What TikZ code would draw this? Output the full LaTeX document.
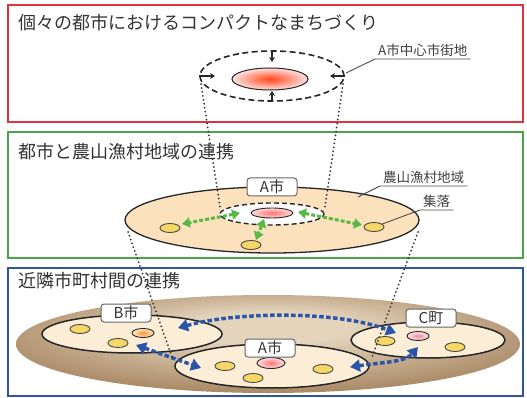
\documentclass[tikz,border=0pt]{standalone}
\usepackage{fontspec}
\setmainfont{Noto Sans CJK JP}
\usetikzlibrary{shapes.geometric,arrows.meta}
\definecolor{redB}{HTML}{E0323C}
\definecolor{greenB}{HTML}{4AA54A}
\definecolor{blueB}{HTML}{2F54A0}
\definecolor{ttlc}{HTML}{333333}
\definecolor{beige}{HTML}{FBE2BD}
\definecolor{cream}{HTML}{FCEDD6}
\definecolor{vilY}{HTML}{F5D766}
\definecolor{gArr}{HTML}{5AB946}
\definecolor{bArr}{HTML}{2A55A8}
\definecolor{brL}{HTML}{E4D4BC}
\definecolor{brD}{HTML}{9C7852}
\definecolor{pinkC}{HTML}{F08CA0}
\pgfdeclareradialshading{brownish}{\pgfpoint{0bp}{10bp}}{color(0bp)=(brL); color(8bp)=(brL); color(34bp)=(brD); color(50bp)=(brD)}
\begin{document}
\begin{tikzpicture}[x=1pt,y=-1pt,
  panel/.style={line width=2pt},
  ttl/.style={anchor=west, font=\fontsize{18}{20}\selectfont, text=ttlc, inner sep=0pt},
  oval/.style={ellipse, inner sep=0pt, draw=black!85, line width=1.3pt},
  vil/.style={oval, fill=vilY, minimum width=20pt, minimum height=9pt, line width=0.9pt, draw=black!70},
  tag/.style={rounded corners=3pt, draw=gray!80!black, fill=white, line width=1pt, font=\fontsize{15}{15}\selectfont, text=ttlc, minimum width=50pt, minimum height=18pt, inner sep=0pt},
  dotl/.style={line width=2pt, dash pattern=on 0pt off 4pt, line cap=round, draw=black!80},
  garrow/.style={draw=gArr, line width=3pt, dash pattern=on 4pt off 2pt, arrows={Triangle[length=8pt,width=10pt,fill=gArr]-Triangle[length=8pt,width=10pt,fill=gArr]}},
  barrow/.style={draw=bArr, line width=3.5pt, dash pattern=on 4.5pt off 2.5pt, arrows={Triangle[length=10pt,width=12pt,fill=bArr]-Triangle[length=10pt,width=12pt,fill=bArr]}},
  lbl/.style={font=\fontsize{13.5}{14}\selectfont, text=black!75, anchor=south west, inner xsep=3pt, inner ysep=2pt},
  lead/.style={line width=0.9pt, draw=black!70},
  inarrow/.style={line width=1.8pt, draw=black!85, -{Stealth[length=5pt,width=6pt]}}
]
\useasboundingbox (0,0) rectangle (527,398);

% panels
\draw[panel, draw=redB] (8,5) rectangle (523,122);
\draw[panel, draw=greenB] (8,132) rectangle (523,258);
\draw[panel, draw=blueB] (8,268) rectangle (523,396);

\node[ttl] (t1) at (18,23) {個々の都市におけるコンパクトなまちづくり};
\node[ttl] (t2) at (18,152) {都市と農山漁村地域の連携};
\node[ttl] (t3) at (18,281) {近隣市町村間の連携};

% ---------- panel 1
\node[oval, dashed, dash pattern=on 6pt off 3.5pt, line width=1.6pt, minimum width=144pt, minimum height=50pt] (dash1) at (272,76) {};
\node[oval, line width=1pt, minimum width=76pt, minimum height=22pt, inner color=red!60!orange!90, outer color=red!12] (core1) at (270,79) {};
\coordinate (in1t) at (272,62);
\coordinate (in1b) at (272,91);
\coordinate (in1l) at (215,76);
\coordinate (in1r) at (330,76);
\draw[inarrow] (dash1.north) -- (in1t);
\draw[inarrow] (dash1.south) -- (in1b);
\draw[inarrow] (dash1.west) -- (in1l);
\draw[inarrow] (dash1.east) -- (in1r);
\node[lbl] (lab1) at (375,59) {A市中心市街地};
\coordinate (lead1) at (346,73);
\draw[lead] (lab1.south east) -- (lab1.south west) -- (lead1);

% ---------- panel 2
\node[oval, fill=beige, minimum width=294pt, minimum height=66pt] (big2) at (272,220) {};
\node[oval, fill=white, dashed, dash pattern=on 5pt off 3pt, line width=1.4pt, minimum width=104pt, minimum height=22pt] (dash2) at (272,214) {};
\node[oval, line width=0.9pt, minimum width=42pt, minimum height=10pt, inner color=red!55, outer color=red!15] (core2) at (272,213) {};
\node[tag] (tagA2) at (272,187) {A市};
\node[vil] (v1) at (170,228) {};
\node[vil] (v2) at (251,245) {};
\node[vil] (v3) at (374,227) {};
\coordinate (g1) at (240,213);
\coordinate (g1e) at (182,224);
\coordinate (g2) at (264,219);
\coordinate (g2e) at (256,240);
\coordinate (g3) at (298,212);
\coordinate (g3e) at (362,225);
\draw[garrow] (g1) -- (g1e);
\draw[garrow] (g2) -- (g2e);
\draw[garrow] (g3) -- (g3e);
\node[lbl] (lab2) at (380,186) {農山漁村地域};
\coordinate (lead2) at (358,197);
\draw[lead] (lab2.south east) -- (lab2.south west) -- (lead2);
\node[lbl] (lab3) at (420,210) {集落};
\draw[lead] (lab3.south east) -- (lab3.south west) -- (v3.20);

% ---------- panel 3
\node[ellipse, inner sep=0pt, shading=brownish, minimum width=504pt, minimum height=98pt] (field) at (268,344) {};
\node[oval, fill=cream, line width=1.5pt, minimum width=180pt, minimum height=38pt] (cityB) at (132,334) {};
\node[oval, fill=cream, line width=1.5pt, minimum width=154pt, minimum height=36pt] (cityC) at (428,340) {};
\node[oval, fill=cream, line width=1.5pt, minimum width=194pt, minimum height=44pt] (cityA) at (272,366) {};
\node[oval, line width=0.9pt, minimum width=22pt, minimum height=9pt, inner color=orange!85, outer color=orange!15] (coreB) at (143,333) {};
\node[oval, line width=0.9pt, minimum width=28pt, minimum height=11pt, inner color=red!55, outer color=red!12] (coreA) at (271,363) {};
\node[oval, line width=0.9pt, minimum width=22pt, minimum height=9pt, inner color=pinkC, outer color=pinkC!20] (coreC) at (418,336) {};
\node[vil] (vb1) at (80,329) {};
\node[vil] (vb2) at (118,343) {};
\node[vil] (va1) at (225,366) {};
\node[vil] (va2) at (253,378) {};
\node[vil] (va3) at (323,369) {};
\node[vil] (vc1) at (385,341) {};
\node[vil] (vc2) at (455,347) {};
\node[tag] (tagB) at (126,313) {B市};
\node[tag] (tagA3) at (270,348) {A市};
\node[tag] (tagC) at (431,318) {C町};
\coordinate (b1) at (178,328);
\coordinate (b2) at (396,333);
\coordinate (b3) at (136,345);
\coordinate (b4) at (201,368);
\coordinate (b5) at (350,367);
\coordinate (b6) at (418,347);
\draw[barrow] (b1) .. controls (235,312) and (335,310) .. (b2);
\draw[barrow] (b3) -- (b4);
\draw[barrow] (b5) .. controls (385,362) and (405,362) .. (b6);

% ---------- dotted projection lines
\coordinate (d1a) at (201,84);
\coordinate (d1b) at (343,84);
\coordinate (d2a) at (220,207);
\coordinate (d2b) at (325,207);
\coordinate (d3a) at (128,232);
\coordinate (d3b) at (418,232);
\coordinate (d4a) at (172,357);
\coordinate (d4b) at (372,357);
\draw[dotl] (d1a) -- (d2a);
\draw[dotl] (d1b) -- (d2b);
\draw[dotl] (d3a) -- (d4a);
\draw[dotl] (d3b) -- (d4b);
\end{tikzpicture}
\end{document}
